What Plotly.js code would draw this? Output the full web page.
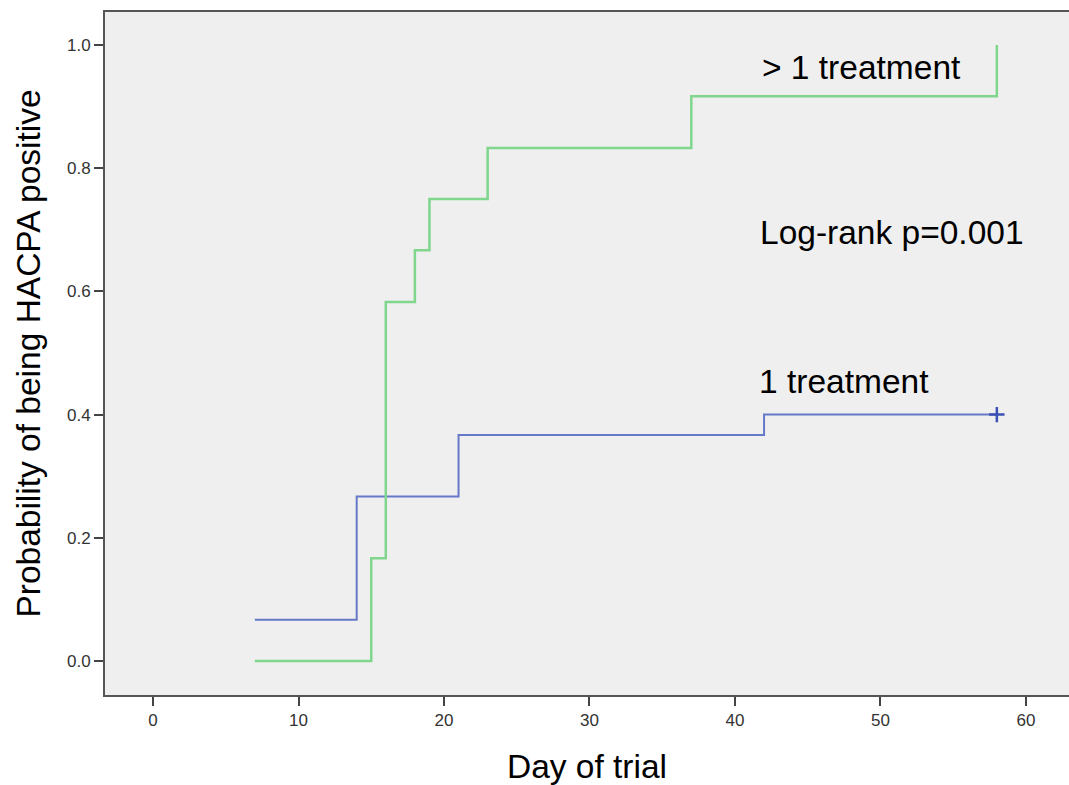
<!DOCTYPE html>
<html>
<head>
<meta charset="utf-8">
<script src="https://cdn.plot.ly/plotly-3.0.1.min.js"></script>
<style>html,body{margin:0;padding:0;background:#fff;}#chart{width:1069px;height:785px;}</style>
</head>
<body>
<div id="chart"></div>
<script>
// Data
const multiDays = [7, 15, 16, 18, 19, 23, 37, 58];
const multiProb = [0, 0.167, 0.583, 0.667, 0.75, 0.833, 0.917, 1.0];
const singleDays = [7, 14, 21, 42, 58];
const singleProb = [0.067, 0.267, 0.367, 0.4, 0.4];
const censorDays = [58];
const censorProb = [0.4];
const xTicks = [0, 10, 20, 30, 40, 50, 60];
const yTicks = [0, 0.2, 0.4, 0.6, 0.8, 1.0];
const yTickText = ["0.0", "0.2", "0.4", "0.6", "0.8", "1.0"];

const traces = [
  {x: singleDays, y: singleProb, mode: 'lines', line: {shape: 'hv', color: '#6678c8', width: 2}, name: '1 treatment'},
  {x: multiDays, y: multiProb, mode: 'lines', line: {shape: 'hv', color: '#7fd68c', width: 2.5}, name: '> 1 treatment'},
  {x: censorDays, y: censorProb, mode: 'markers', marker: {symbol: 'cross-thin', size: 11, line: {color: '#3b52b4', width: 2.5}}, name: 'censored'}
];

const layout = {
  width: 1069, height: 785,
  margin: {l: 105, r: 0, t: 12, b: 90},
  paper_bgcolor: '#ffffff',
  plot_bgcolor: '#efefef',
  showlegend: false,
  font: {family: 'Liberation Sans, Arial, sans-serif', color: '#000'},
  xaxis: {
    range: [-3.3, 62.96],
    tickvals: xTicks,
    ticktext: xTicks.map(String),
    ticks: 'outside', ticklen: 9, tickwidth: 2, tickcolor: '#444',
    showline: true, linecolor: '#555', linewidth: 2, mirror: true,
    showgrid: false, zeroline: false,
    tickfont: {size: 17, color: '#333'},
    title: {text: 'Day of trial', font: {size: 33.5, color: '#000'}, standoff: 26}
  },
  yaxis: {
    range: [-0.0552, 1.0536],
    tickvals: yTicks,
    ticktext: yTickText,
    ticks: 'outside', ticklen: 9, tickwidth: 2, tickcolor: '#444',
    showline: true, linecolor: '#555', linewidth: 2,
    showgrid: false, zeroline: false,
    tickfont: {size: 17, color: '#333'},
    title: {text: 'Probability of being HACPA positive', font: {size: 33.5, color: '#000'}, standoff: 16}
  },
  annotations: [
    {x: 41.7, y: 0.963, xref: 'x', yref: 'y', text: '> 1 treatment', showarrow: false, xanchor: 'left', yanchor: 'middle', font: {size: 33.5, color: '#000'}},
    {x: 41.6, y: 0.696, xref: 'x', yref: 'y', text: 'Log-rank p=0.001', showarrow: false, xanchor: 'left', yanchor: 'middle', font: {size: 33.5, color: '#000'}},
    {x: 41.5, y: 0.453, xref: 'x', yref: 'y', text: '1 treatment', showarrow: false, xanchor: 'left', yanchor: 'middle', font: {size: 33.5, color: '#000'}}
  ]
};

Plotly.newPlot('chart', traces, layout, {displayModeBar: false, staticPlot: true});
</script>
</body>
</html>
